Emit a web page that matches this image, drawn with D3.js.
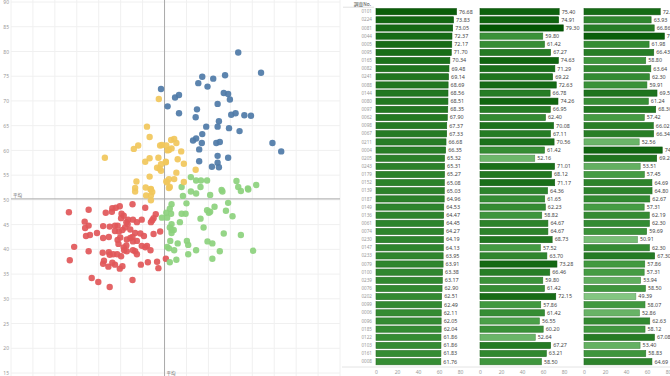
<!DOCTYPE html>
<html>
<head>
<meta charset="utf-8">
<script src="https://cdn.jsdelivr.net/npm/d3@7"></script>
<style>
body { margin: 0; background: #fff; }
svg { display: block; font-family: "Noto Sans CJK JP", "Noto Sans", sans-serif; }
</style>
</head>
<body>
<script>
// scatter values
const yTicks = [15, 20, 25, 30, 35, 40, 45, 50, 55, 60, 65, 70, 75, 80, 85, 90];
const gridX = [15, 20, 25, 30, 35, 40, 45, 50, 55, 60, 65, 70, 75, 80, 85, 90];
const avgX = 50.0, avgY = 50.2;

const blueDots = [
    [49.2, 72.4], [50.7, 68.9], [66.8, 79.8], [72.0, 75.7], [58.6, 74.9], [61.1, 74.5],
    [63.8, 75.2], [57.7, 73.6], [59.8, 72.9], [52.4, 70.7], [53.3, 71.2], [63.5, 71.6],
    [64.5, 71.4], [64.9, 70.3], [62.1, 69.4], [57.4, 68.3], [57.1, 66.7], [53.3, 67.5],
    [65.2, 67.2], [66.2, 67.5], [68.2, 67.1], [69.7, 67.0], [62.4, 65.9], [62.1, 64.8],
    [59.5, 64.8], [64.7, 64.5], [67.1, 63.9], [58.6, 63.3], [57.2, 62.4], [56.5, 62.0],
    [58.5, 61.5], [61.8, 61.5], [62.6, 61.7], [57.9, 60.2], [74.6, 61.5], [76.6, 59.8],
    [62.1, 58.9], [64.5, 58.5], [57.9, 57.8], [62.1, 57.5], [60.8, 56.7], [62.4, 56.6]
];
const yellowDots = [
    [48.7, 70.4], [46.0, 64.8], [46.6, 62.7], [44.0, 61.0], [43.0, 60.3], [49.0, 61.0],
    [49.4, 61.1], [50.4, 61.0], [50.7, 60.0], [36.4, 58.5], [46.6, 58.4], [48.6, 58.5],
    [45.6, 57.7], [50.3, 57.6], [49.2, 57.2], [48.3, 56.5], [48.9, 56.3], [49.2, 55.9],
    [46.6, 54.7], [43.6, 53.7], [50.4, 53.7], [43.3, 52.4], [45.7, 52.5], [46.9, 52.2],
    [43.3, 51.7], [46.8, 52.1], [47.2, 51.6], [45.8, 50.9], [46.9, 50.9], [46.9, 49.9],
    [51.5, 62.1], [52.2, 62.3], [52.7, 61.5], [51.0, 60.1], [51.6, 60.4], [53.8, 59.8],
    [53.0, 58.2], [54.4, 57.3], [50.3, 57.7], [57.1, 56.1], [52.7, 55.5], [51.0, 54.2],
    [52.2, 54.2], [54.4, 53.6], [50.6, 53.5], [51.2, 52.6], [51.0, 52.4]
];
const greenDots = [
    [56.0, 54.6], [57.2, 53.9], [58.3, 53.9], [59.7, 53.9], [66.4, 53.8], [66.8, 52.6],
    [69.0, 52.3], [70.9, 53.0], [53.9, 52.6], [58.2, 52.6], [63.0, 52.0], [56.0, 51.7],
    [57.2, 51.3], [63.2, 51.7], [60.4, 51.0], [67.4, 51.8], [69.1, 52.1], [54.2, 50.8],
    [51.6, 49.1], [55.0, 49.3], [64.5, 49.4], [61.4, 48.6], [51.2, 48.2], [59.7, 47.9],
    [60.4, 47.6], [60.1, 47.4], [64.0, 47.8], [65.5, 46.7], [50.4, 47.4], [51.5, 47.2],
    [49.4, 46.4], [50.6, 46.4], [53.9, 47.2], [54.8, 47.2], [58.2, 46.2], [53.5, 45.5],
    [51.6, 45.1], [51.2, 44.4], [58.9, 44.4], [51.6, 43.9], [52.1, 43.9], [51.6, 43.3],
    [63.5, 43.2], [67.4, 42.9], [51.3, 41.7], [53.0, 41.2], [55.1, 41.7], [55.4, 40.9],
    [59.8, 41.6], [60.9, 41.2], [50.6, 40.5], [51.0, 40.2], [52.2, 39.8], [57.2, 39.8],
    [62.6, 39.6], [70.2, 39.7], [55.4, 39.0], [52.7, 37.9], [51.2, 37.4], [60.9, 38.1]
];
const redDots = [
    [28.2, 47.5], [32.7, 48.0], [36.6, 47.4], [38.0, 47.6], [38.1, 48.3], [38.9, 48.4],
    [39.8, 48.7], [42.7, 49.1], [45.6, 48.4], [40.2, 47.2], [40.7, 46.8], [40.1, 46.3],
    [41.7, 46.0], [41.3, 45.5], [42.8, 46.0], [43.7, 45.5], [44.8, 46.0], [48.0, 47.1],
    [47.5, 46.3], [47.2, 45.9], [46.9, 45.5], [49.0, 43.6], [47.5, 43.1], [31.8, 45.6],
    [32.7, 44.8], [31.9, 44.3], [36.0, 44.7], [37.5, 44.6], [38.7, 44.8], [39.3, 44.8],
    [41.6, 45.1], [41.0, 44.4], [42.2, 44.0], [38.7, 43.7], [39.6, 43.6], [40.4, 43.9],
    [34.6, 43.3], [33.0, 42.9], [32.1, 42.7], [37.3, 42.5], [36.0, 42.3], [39.9, 42.4],
    [42.7, 42.5], [43.3, 43.3], [44.5, 43.2], [45.3, 42.7], [41.4, 42.0], [42.2, 42.3],
    [42.8, 41.6], [43.7, 41.7], [39.3, 41.9], [39.5, 41.1], [29.4, 40.5], [41.3, 40.8],
    [40.7, 40.4], [44.8, 40.7], [45.6, 40.4], [46.0, 40.7], [46.8, 39.8], [42.8, 39.8],
    [43.3, 39.6], [43.7, 39.0], [40.8, 39.8], [41.4, 39.6], [32.7, 39.6], [35.9, 39.3],
    [37.3, 39.4], [37.5, 38.9], [38.3, 39.0], [39.2, 39.0], [40.1, 38.6], [36.2, 37.7],
    [36.0, 37.1], [38.1, 37.3], [38.7, 36.9], [37.2, 36.5], [40.4, 36.6], [39.8, 36.1],
    [28.4, 37.8], [46.2, 37.4], [44.6, 36.9], [48.3, 37.5], [48.6, 36.2], [50.3, 38.1],
    [33.4, 34.2], [34.9, 33.4], [37.5, 32.4], [42.7, 33.8]
];

// table values
const ids = ["0101", "0224", "0081", "0044", "0005", "0095", "0165", "0082", "0241", "0088", "0144",
    "0080", "0097", "0062", "0098", "0067", "0211", "0004", "0205", "0243", "0179", "0152",
    "0139", "0187", "0149", "0136", "0061", "0074", "0230", "0147", "0233", "0079", "0100",
    "0239", "0076", "0202", "0099", "0006", "0096", "0185", "0122", "0103", "0161", "0008"];
const col1 = [76.68, 73.83, 73.05, 72.37, 72.17, 71.70, 70.34, 69.48, 69.14, 68.69, 68.56,
    68.51, 68.35, 67.90, 67.37, 67.33, 66.68, 66.35, 65.32, 65.31, 65.27, 65.08,
    65.03, 64.96, 64.53, 64.47, 64.45, 64.27, 64.19, 64.13, 63.95, 63.91, 63.38,
    63.17, 62.90, 62.51, 62.49, 62.11, 62.05, 62.04, 61.86, 61.86, 61.83, 61.76];
const col2 = [75.40, 74.91, 79.30, 59.80, 61.42, 67.27, 74.63, 71.29, 69.22, 72.63, 66.78,
    74.26, 66.95, 62.40, 70.08, 67.11, 70.56, 61.42, 52.16, 71.01, 68.12, 71.17,
    64.36, 61.65, 62.23, 58.82, 64.67, 64.67, 68.73, 57.52, 63.70, 73.28, 66.46,
    59.80, 61.42, 72.15, 57.86, 61.42, 56.55, 60.20, 52.64, 67.27, 63.21, 58.50];
const col3 = [72.61, 63.93, 66.86, 76.50, 61.98, 66.43, 58.80, 63.64, 62.30, 59.91, 69.53,
    61.24, 68.30, 57.42, 66.02, 66.34, 52.56, 74.50, 69.24, 53.51, 57.45, 64.69,
    64.80, 62.67, 57.31, 62.19, 62.30, 59.69, 50.91, 62.30, 67.30, 57.86, 57.31,
    53.94, 58.50, 49.39, 58.07, 52.86, 62.63, 58.12, 67.08, 53.40, 58.83, 64.69];
const barTicks = [0, 20, 40, 60, 80];

const width = 670, height = 376;
const svg = d3.select("body").append("svg")
    .attr("width", width)
    .attr("height", height);

// ---- scatter ----
const x = d3.scaleLinear().domain([15, 90]).range([11, 340]);
const y = d3.scaleLinear().domain([15, 90]).range([373, 2]);

const grid = svg.append("g").attr("class", "grid");
grid.selectAll("line.gx")
    .data(gridX)
    .enter().append("line")
    .attr("class", "gx")
    .attr("x1", d => x(d)).attr("x2", d => x(d))
    .attr("y1", 0).attr("y2", height)
    .attr("stroke", "#f0f0f0");
grid.selectAll("line.gy")
    .data(yTicks)
    .enter().append("line")
    .attr("class", "gy")
    .attr("x1", x(15)).attr("x2", x(90))
    .attr("y1", d => y(d)).attr("y2", d => y(d))
    .attr("stroke", "#f0f0f0");

const yAxis = svg.append("g")
    .attr("transform", `translate(${x(15)},0)`)
    .call(d3.axisLeft(y).tickValues(yTicks).tickSize(0).tickPadding(2));
yAxis.select(".domain").remove();
yAxis.selectAll("text")
    .attr("font-size", 5)
    .attr("font-family", "'Noto Sans', sans-serif")
    .attr("fill", "#999");

// average lines
svg.append("line")
    .attr("x1", x(15)).attr("x2", x(90))
    .attr("y1", y(avgY)).attr("y2", y(avgY))
    .attr("stroke", "#aaa").attr("stroke-width", 1);
svg.append("line")
    .attr("x1", x(avgX)).attr("x2", x(avgX))
    .attr("y1", 0).attr("y2", height)
    .attr("stroke", "#aaa").attr("stroke-width", 1);
svg.append("text")
    .attr("x", x(15) + 2).attr("y", y(avgY) - 2)
    .attr("font-size", 4.5).attr("fill", "#666")
    .text("平均");
svg.append("text")
    .attr("x", x(avgX) + 2).attr("y", height - 1)
    .attr("font-size", 4.5).attr("fill", "#666")
    .text("平均");

const groups = [
    {dots: redDots, color: "#e15759"},
    {dots: greenDots, color: "#8cd17d"},
    {dots: yellowDots, color: "#f1c75b"},
    {dots: blueDots, color: "#4e79a7"}
];
groups.forEach(function (g, i) {
    svg.append("g").selectAll("circle")
        .data(g.dots)
        .enter().append("circle")
        .attr("cx", d => x(d[0]))
        .attr("cy", d => y(d[1]))
        .attr("r", 3.2)
        .attr("fill", g.color)
        .attr("fill-opacity", 0.92);
});

// ---- table ----
const row = d3.scalePoint().domain(ids).range([11.7, 361.7]);
const colX = [376, 480, 584];
const bx = d3.scaleLinear().domain([0, 100]).range([0, 105]);
const green = d3.scaleLinear().domain([49, 58, 80]).range(["#86c884", "#40983e", "#005400"]);
const barH = 6.2;

svg.append("text")
    .attr("x", 371).attr("y", 5.5)
    .attr("text-anchor", "end")
    .attr("font-size", 4.8).attr("fill", "#444")
    .text("調査No.");
svg.append("line")
    .attr("x1", 343).attr("x2", 374)
    .attr("y1", 7.2).attr("y2", 7.2)
    .attr("stroke", "#ccc").attr("stroke-width", 0.6);

svg.append("g").selectAll("text")
    .data(ids)
    .enter().append("text")
    .attr("x", 372)
    .attr("y", d => row(d))
    .attr("dy", "0.35em")
    .attr("text-anchor", "end")
    .attr("font-size", 4.6)
    .attr("font-family", "'Noto Sans', sans-serif")
    .attr("fill", "#999")
    .text(d => d);

[col1, col2, col3].forEach(function (vals, c) {
    const g = svg.append("g")
        .attr("class", "col-" + c)
        .attr("transform", `translate(${colX[c]}, 0)`);

    g.selectAll("rect")
        .data(vals)
        .enter().append("rect")
        .attr("x", 0)
        .attr("y", (d, i) => row(ids[i]) - barH / 2)
        .attr("width", d => bx(d))
        .attr("height", barH)
        .attr("fill", d => green(d))
        .attr("stroke", d => d3.color(green(d)).darker(0.6))
        .attr("stroke-width", 0.6);

    g.selectAll("text.val")
        .data(vals)
        .enter().append("text")
        .attr("class", "val")
        .attr("x", d => bx(d) + 2.5)
        .attr("y", (d, i) => row(ids[i]))
        .attr("dy", "0.35em")
        .attr("font-size", 5.4)
        .attr("font-family", "'Noto Sans', sans-serif")
        .attr("fill", "#444")
        .text(d => d.toFixed(2));

    const ax = g.append("g")
        .attr("transform", "translate(0,367)")
        .call(d3.axisBottom(bx).tickValues(barTicks).tickSize(0).tickPadding(3));
    ax.select(".domain").remove();
    ax.selectAll("text")
        .attr("font-size", 5)
        .attr("font-family", "'Noto Sans', sans-serif")
        .attr("fill", "#999");
});

svg.append("line")
    .attr("x1", 342).attr("x2", width)
    .attr("y1", 367).attr("y2", 367)
    .attr("stroke", "#ddd").attr("stroke-width", 0.8);
</script>
</body>
</html>
